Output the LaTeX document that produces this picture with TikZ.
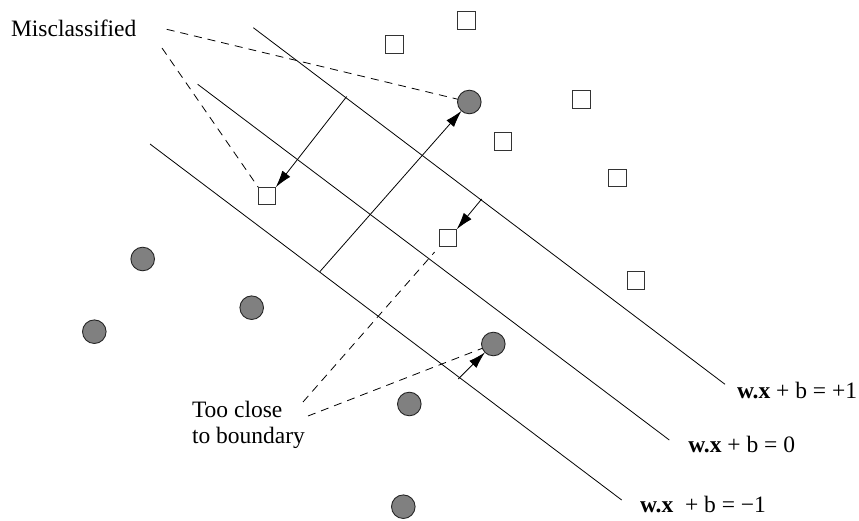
\documentclass[tikz,border=0pt]{standalone}
\usepackage{fontspec}
\setmainfont{Liberation Serif}
\usetikzlibrary{arrows.meta}
\begin{document}
\begin{tikzpicture}[x=1pt,y=-1pt,
  every node/.style={inner sep=0pt, outer sep=0pt},
  lbl/.style={font=\fontsize{23.5}{26}\selectfont, anchor=base west},
  hyper/.style={line width=0.8pt},
  sq/.style={draw=black!80, line width=0.9pt, fill=white, shape=rectangle, minimum size=17.6pt},
  dot/.style={draw=black!85, line width=0.9pt, fill=black!50, circle, minimum size=23.6pt},
  arr/.style={line width=0.8pt, -{Latex[length=17pt,width=10pt]}},
  lead/.style={line width=0.8pt, dash pattern=on 8pt off 6pt},
]
\useasboundingbox (0,0) rectangle (859,521);
% hyperplanes
\coordinate (p1a) at (253.3,27.7); \coordinate (p1b) at (725,384.3);
\coordinate (p0a) at (197.7,84.3); \coordinate (p0b) at (669.3,440);
\coordinate (m1a) at (150,144);    \coordinate (m1b) at (621.7,500);
\draw[hyper] (p1a) -- (p1b);
\draw[hyper] (p0a) -- (p0b);
\draw[hyper] (m1a) -- (m1b);
% squares
\node[sq] (s1) at (267,196) {};
\node[sq] (s2) at (448,238) {};
\node[sq] (s3) at (466.7,20.2) {};
\node[sq] (s4) at (394.2,44.2) {};
\node[sq] (s5) at (581.5,99.2) {};
\node[sq] (s6) at (502.8,141.5) {};
\node[sq] (s7) at (617.7,177.8) {};
\node[sq] (s8) at (636,280.3) {};
% circles
\node[dot] (c1) at (469.3,102) {};
\node[dot] (c2) at (493.3,344) {};
\node[dot] (c3) at (142.7,259) {};
\node[dot] (c4) at (251.7,307.7) {};
\node[dot] (c5) at (94.3,331.7) {};
\node[dot] (c6) at (409.3,404) {};
\node[dot] (c7) at (403.3,506.7) {};
% margin arrows
\coordinate (a1) at (346.7,96.5);
\coordinate (a2) at (320,271.5);
\coordinate (a3) at (481.7,199);
\coordinate (a4) at (458.3,379);
\draw[arr] (a1) -- (s1.north east);
\draw[arr] (a2) -- (c1);
\draw[arr] (a3) -- (s2.north east);
\draw[arr] (a4) -- (c2);
% labels
\node[lbl] (mis) at (11,36.7) {Misclassified};
\node[lbl, align=left] (close) at (192,443) {Too close\\to boundary};
\node[lbl] (eq1) at (737,398.5) {\textbf{w.x} + b = +1};
\node[lbl] (eq0) at (688.3,452.7) {\textbf{w.x} + b = 0};
\node[lbl] (eqm) at (640,512.7) {\textbf{w.x}\ \ + b = −1};
% leader lines
\coordinate (l1) at (166.7,29.3);
\coordinate (l2) at (162,48);
\coordinate (l3) at (303,402);
\coordinate (l4) at (308,416);
\draw[lead] (l1) -- (c1);
\draw[lead] (l2) -- (s1.north west);
\draw[lead, shorten >=7pt] (l3) -- (s2.south west);
\draw[lead] (l4) -- (c2);
\end{tikzpicture}
\end{document}
